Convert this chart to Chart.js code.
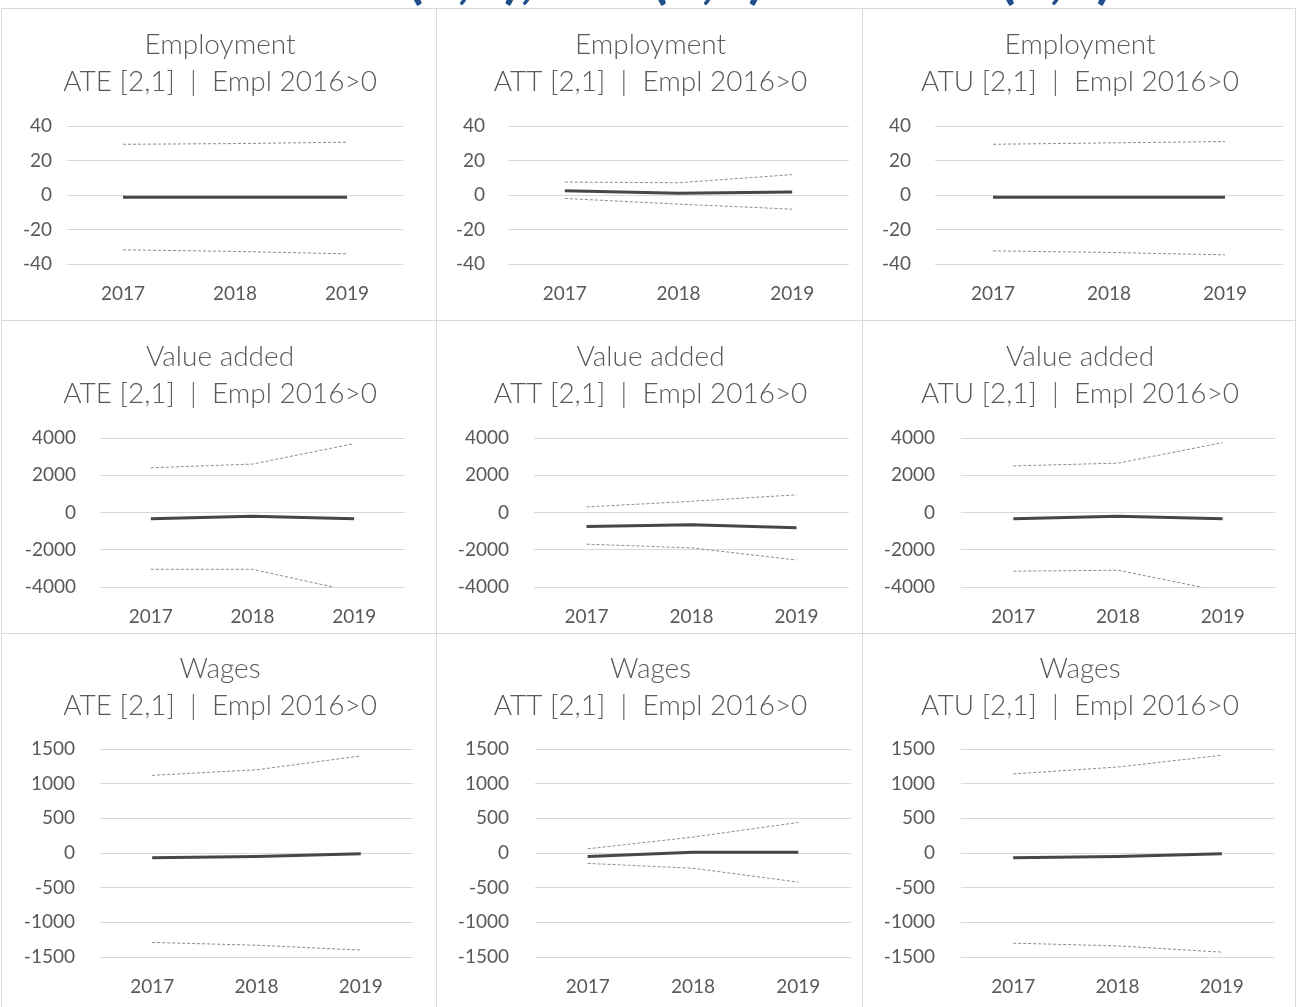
<!DOCTYPE html>
<html>
<head>
<meta charset="utf-8">
<script src="https://cdn.jsdelivr.net/npm/chart.js@4.4.1/dist/chart.umd.min.js"></script>
<style>
  html, body { margin: 0; padding: 0; background: #fff; }
  body { width: 1296px; height: 1007px; position: relative; overflow: hidden; }
  .head { position: absolute; left: 303px; top: -54px; font: bold 58px Lato, sans-serif; line-height: 58px; color: #1f4e8a; white-space: nowrap; }
  .panel { position: absolute; border: 1px solid #d9d9d9; background: #fff; }
  .panel canvas { display: block; }
</style>
</head>
<body>
<div class="head">ATE(2,1), ATT(2,1) and ATU(2,1)</div>
<div id="grid"></div>
<script>
const years = ['2017', '2018', '2019'];
const empTicks = [-40, -20, 0, 20, 40];
const vaTicks = [-4000, -2000, 0, 2000, 4000];
const wageTicks = [-1500, -1000, -500, 0, 500, 1000, 1500];

// Employment
const empAteEst = [-1.3, -1.3, -1.3];
const empAteUp = [29.4, 29.8, 30.6];
const empAteLo = [-31.8, -32.7, -34.1];
const empAttEst = [2.5, 1, 1.8];
const empAttUp = [7.5, 7.1, 11.8];
const empAttLo = [-2, -5.3, -8.2];
const empAtuEst = [-1.3, -1.3, -1.3];
const empAtuUp = [29.4, 30.2, 31];
const empAtuLo = [-32.4, -33.3, -34.7];

// Value added
const vaAteEst = [-340, -200, -340];
const vaAteUp = [2400, 2600, 3700];
const vaAteLo = [-3050, -3050, -4250];
const vaAttEst = [-750, -660, -820];
const vaAttUp = [300, 600, 950];
const vaAttLo = [-1700, -1900, -2550];
const vaAtuEst = [-340, -200, -340];
const vaAtuUp = [2500, 2650, 3750];
const vaAtuLo = [-3150, -3100, -4240];

// Wages
const wAteEst = [-70, -50, -10];
const wAteUp = [1120, 1200, 1400];
const wAteLo = [-1290, -1330, -1400];
const wAttEst = [-50, 10, 10];
const wAttUp = [60, 230, 440];
const wAttLo = [-150, -220, -420];
const wAtuEst = [-70, -50, -10];
const wAtuUp = [1140, 1240, 1410];
const wAtuLo = [-1300, -1340, -1430];

const variables = ['Employment', 'Value added', 'Wages'];
const effects = ['ATE', 'ATT', 'ATU'];
const subtitle = ' [2,1]  |  Empl 2016>0';

const series = [
  [[empAteEst, empAteUp, empAteLo], [empAttEst, empAttUp, empAttLo], [empAtuEst, empAtuUp, empAtuLo]],
  [[vaAteEst, vaAteUp, vaAteLo], [vaAttEst, vaAttUp, vaAttLo], [vaAtuEst, vaAtuUp, vaAtuLo]],
  [[wAteEst, wAteUp, wAteLo], [wAttEst, wAttUp, wAttLo], [wAtuEst, wAtuUp, wAtuLo]]
];
const rowTicks = [empTicks, vaTicks, wageTicks];

// page layout (px)
const cols = [{x: 1, w: 436}, {x: 436, w: 427}, {x: 862, w: 434}];
const rows = [
  {y: 8, h: 313, top: 117, bottom: 264, titleTop: 18},
  {y: 320, h: 314, top: 117, bottom: 587, titleTop: 18},
  {y: 633, h: 380, top: 115, bottom: 957, titleTop: 17}
];
// tick-label right edge, plot left, plot right per row/column
const plotX = [
  [[52, 67, 403], [485, 508, 849], [911, 935, 1283]],
  [[76, 100, 405], [509, 534, 849], [935, 961, 1275]],
  [[75, 100, 413], [509, 535, 851], [935, 961, 1274]]
];

const grid = document.getElementById('grid');
const txt = '#595959';
const titleSize = 28, titleLH = 1.3;
const tickFont = {family: 'Lato', size: 19};

rows.forEach((r, ri) => {
  cols.forEach((c, ci) => {
    const div = document.createElement('div');
    div.className = 'panel';
    div.style.left = c.x + 'px';
    div.style.top = r.y + 'px';
    const cv = document.createElement('canvas');
    cv.width = c.w - 2;
    cv.height = r.h - 2;
    div.appendChild(cv);
    grid.appendChild(div);

    const [labR, pl, pr] = plotX[ri][ci];
    const yW = pl - (c.x + 1) - 2;
    const rightGap = (c.x + c.w - 1) - pr;
    const xH = 44;
    const ticks = rowTicks[ri];
    const [est, up, lo] = series[ri][ci];
    const titleH = titleSize * titleLH * 2;

    new Chart(cv, {
      type: 'line',
      data: {
        labels: years,
        datasets: [
          {data: est, borderColor: '#474747', borderWidth: 3, pointRadius: 0},
          {data: up, borderColor: '#8c8c8c', borderWidth: 1, borderDash: [3, 2], pointRadius: 0},
          {data: lo, borderColor: '#8c8c8c', borderWidth: 1, borderDash: [3, 2], pointRadius: 0}
        ]
      },
      options: {
        responsive: false,
        animation: false,
        devicePixelRatio: 1,
        layout: {
          padding: {left: 2, right: 0, top: 0, bottom: (r.y + r.h - 1) - r.bottom - xH}
        },
        plugins: {
          legend: {display: false},
          tooltip: {enabled: false},
          title: {
            display: true,
            text: [variables[ri], effects[ci] + subtitle],
            color: txt,
            font: {family: 'Lato', size: titleSize, weight: '300', lineHeight: titleLH},
            padding: {top: r.titleTop, bottom: r.top - r.titleTop - titleH}
          }
        },
        scales: {
          x: {
            offset: true,
            grid: {display: false},
            border: {display: false},
            ticks: {color: txt, font: tickFont, padding: 10, maxRotation: 0},
            afterFit: s => { s.height = xH; }
          },
          y: {
            min: ticks[0],
            max: ticks[ticks.length - 1],
            afterBuildTicks: s => { s.ticks = ticks.map(v => ({value: v})); },
            grid: {color: '#d9d9d9', drawTicks: false},
            border: {display: false},
            ticks: {color: txt, font: tickFont, padding: pl - labR, callback: v => String(v)},
            afterFit: s => { s.width = yW; }
          },
          // empty right margin so the title stays centred on the panel
          yRight: {
            position: 'right',
            grid: {display: false},
            border: {display: false},
            ticks: {display: false},
            afterFit: s => { s.width = rightGap; }
          }
        }
      }
    });
  });
});
</script>
</body>
</html>
